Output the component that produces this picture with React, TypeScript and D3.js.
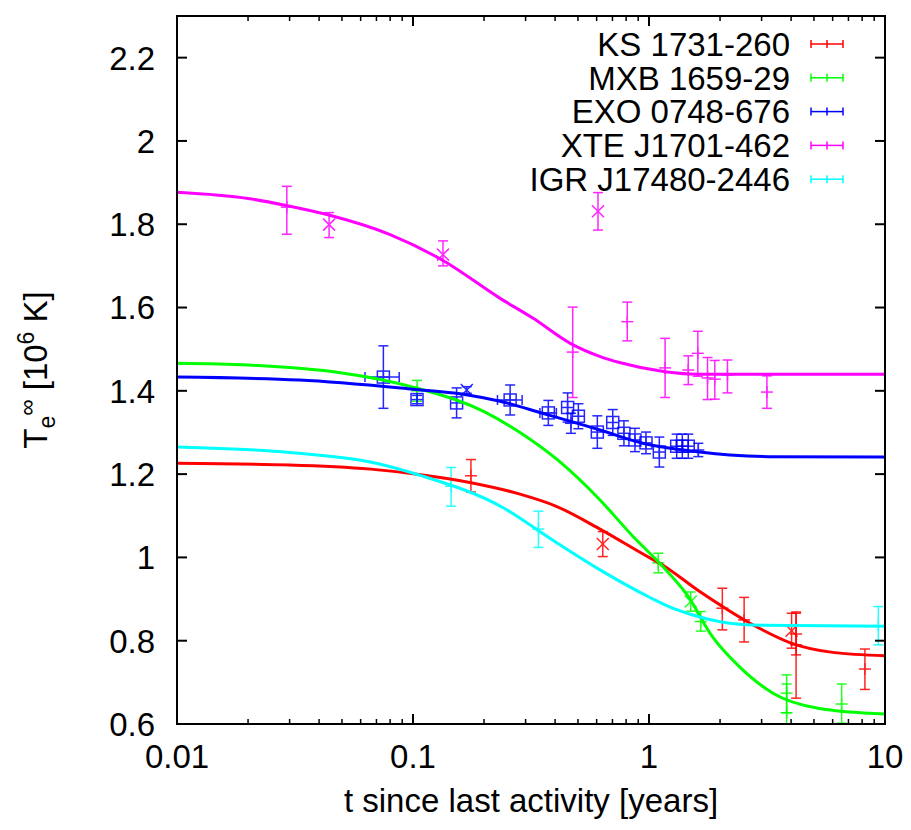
import React from "react";
import * as d3 from "d3";

type Pt = { t: number; v: number; lo: number; hi: number; m: string; tlo?: number; thi?: number };

// ---- Data ----
const seriesNames = ["KS 1731-260", "MXB 1659-29", "EXO 0748-676", "XTE J1701-462", "IGR J17480-2446"];
const seriesColors = ["#ff0000", "#00ff00", "#0000ff", "#ff00ff", "#00ffff"];

const ksPoints: Pt[] = [
  { t: 0.176, v: 1.196, lo: 1.157, hi: 1.235, m: "+" },
  { t: 0.637, v: 1.032, lo: 1.002, hi: 1.062, m: "x" },
  { t: 2.045, v: 0.878, lo: 0.826, hi: 0.926, m: "+" },
  { t: 2.53, v: 0.85, lo: 0.797, hi: 0.904, m: "+" },
  { t: 4.02, v: 0.824, lo: 0.782, hi: 0.866, m: "x" },
  { t: 4.2, v: 0.816, lo: 0.766, hi: 0.869, m: "+" },
  { t: 4.2, v: 0.79, lo: 0.662, hi: 0.866, m: "+" },
  { t: 8.22, v: 0.732, lo: 0.683, hi: 0.78, m: "+" },
];
const mxbPoints: Pt[] = [
  { t: 0.104, v: 1.4, lo: 1.375, hi: 1.425, m: "+" },
  { t: 1.095, v: 0.987, lo: 0.963, hi: 1.01, m: "+" },
  { t: 1.502, v: 0.894, lo: 0.871, hi: 0.917, m: "x" },
  { t: 1.656, v: 0.846, lo: 0.823, hi: 0.87, m: "+" },
  { t: 3.83, v: 0.674, lo: 0.627, hi: 0.718, m: "+" },
  { t: 3.83, v: 0.627, lo: 0.58, hi: 0.696, m: "+" },
  { t: 6.55, v: 0.648, lo: 0.602, hi: 0.696, m: "+" },
];
const exoPoints: Pt[] = [
  { t: 0.0749, v: 1.433, lo: 1.358, hi: 1.508, m: "s", tlo: 0.0626, thi: 0.0874 },
  { t: 0.104, v: 1.379, lo: 1.369, hi: 1.389, m: "s" },
  { t: 0.153, v: 1.371, lo: 1.335, hi: 1.407, m: "s" },
  { t: 0.169, v: 1.402, lo: 1.394, hi: 1.41, m: "x" },
  { t: 0.258, v: 1.378, lo: 1.342, hi: 1.414, m: "s", tlo: 0.228, thi: 0.29 },
  { t: 0.3745, v: 1.347, lo: 1.317, hi: 1.377, m: "s", tlo: 0.345, thi: 0.405 },
  { t: 0.452, v: 1.36, lo: 1.325, hi: 1.395, m: "s" },
  { t: 0.467, v: 1.322, lo: 1.298, hi: 1.346, m: "+" },
  { t: 0.502, v: 1.339, lo: 1.309, hi: 1.369, m: "s" },
  { t: 0.604, v: 1.301, lo: 1.262, hi: 1.34, m: "s" },
  { t: 0.702, v: 1.324, lo: 1.293, hi: 1.355, m: "s" },
  { t: 0.783, v: 1.298, lo: 1.268, hi: 1.328, m: "s" },
  { t: 0.872, v: 1.282, lo: 1.254, hi: 1.31, m: "s" },
  { t: 0.971, v: 1.275, lo: 1.249, hi: 1.301, m: "s" },
  { t: 1.106, v: 1.253, lo: 1.217, hi: 1.289, m: "s" },
  { t: 1.31, v: 1.267, lo: 1.238, hi: 1.296, m: "s" },
  { t: 1.384, v: 1.267, lo: 1.238, hi: 1.296, m: "s" },
  { t: 1.467, v: 1.267, lo: 1.238, hi: 1.296, m: "s" },
  { t: 1.618, v: 1.258, lo: 1.242, hi: 1.274, m: "+" },
];
const xtePoints: Pt[] = [
  { t: 0.0292, v: 1.841, lo: 1.776, hi: 1.891, m: "+" },
  { t: 0.0441, v: 1.799, lo: 1.768, hi: 1.828, m: "x" },
  { t: 0.134, v: 1.727, lo: 1.7, hi: 1.76, m: "x" },
  { t: 0.475, v: 1.493, lo: 1.384, hi: 1.601, m: "+" },
  { t: 0.608, v: 1.831, lo: 1.786, hi: 1.876, m: "x" },
  { t: 0.809, v: 1.566, lo: 1.52, hi: 1.613, m: "+" },
  { t: 1.17, v: 1.455, lo: 1.384, hi: 1.526, m: "+" },
  { t: 1.467, v: 1.45, lo: 1.415, hi: 1.484, m: "+" },
  { t: 1.61, v: 1.49, lo: 1.435, hi: 1.543, m: "+" },
  { t: 1.77, v: 1.431, lo: 1.379, hi: 1.48, m: "+" },
  { t: 1.9, v: 1.428, lo: 1.38, hi: 1.473, m: "+" },
  { t: 2.15, v: 1.438, lo: 1.395, hi: 1.474, m: "+" },
  { t: 3.16, v: 1.397, lo: 1.358, hi: 1.436, m: "+" },
];
const igrPoints: Pt[] = [
  { t: 0.145, v: 1.171, lo: 1.123, hi: 1.216, m: "+" },
  { t: 0.34, v: 1.068, lo: 1.024, hi: 1.111, m: "+" },
  { t: 9.37, v: 0.836, lo: 0.79, hi: 0.882, m: "+" },
];

// model curves: [t, T]
const ksCurve: [number, number][] = [
  [0.01, 1.226], [0.03, 1.222], [0.066, 1.212], [0.1, 1.201], [0.174, 1.18], [0.284, 1.152],
  [0.4, 1.124], [0.62, 1.068], [1.0, 1.0], [1.11, 0.986], [1.64, 0.918], [2.68, 0.842],
  [3.97, 0.795], [6.0, 0.772], [10, 0.764],
];
const mxbCurve: [number, number][] = [
  [0.01, 1.466], [0.02, 1.462], [0.033, 1.454], [0.05, 1.443], [0.1, 1.409], [0.2, 1.35],
  [0.284, 1.3], [0.41, 1.234], [0.62, 1.138], [0.86, 1.049], [1.11, 0.986], [1.45, 0.91],
  [1.86, 0.809], [2.42, 0.737], [3.35, 0.674], [5.2, 0.638], [10, 0.624],
];
const exoCurve: [number, number][] = [
  [0.01, 1.433], [0.033, 1.426], [0.1, 1.404], [0.163, 1.392], [0.234, 1.375], [0.355, 1.346],
  [0.62, 1.306], [0.94, 1.274], [1.64, 1.253], [2.2, 1.246], [3.2, 1.242], [10, 1.241],
];
const xteCurve: [number, number][] = [
  [0.01, 1.877], [0.02, 1.862], [0.029, 1.845], [0.044, 1.822], [0.08, 1.775], [0.134, 1.713],
  [0.234, 1.622], [0.323, 1.574], [0.464, 1.514], [0.63, 1.481], [0.75, 1.468], [1.17, 1.446],
  [1.6, 1.44], [10, 1.44],
];
const igrCurve: [number, number][] = [
  [0.01, 1.265], [0.03, 1.252], [0.066, 1.229], [0.106, 1.198], [0.24, 1.12], [0.38, 1.046],
  [0.62, 0.97], [1.0, 0.905], [1.3, 0.875], [1.64, 0.857], [2.2, 0.842], [3, 0.837], [10, 0.835],
];

const yTicks = [0.6, 0.8, 1, 1.2, 1.4, 1.6, 1.8, 2, 2.2];
const yTickLabels = ["0.6", "0.8", "1", "1.2", "1.4", "1.6", "1.8", "2", "2.2"];
const xTicks = [0.01, 0.1, 1, 10];
const xTickLabels = ["0.01", "0.1", "1", "10"];

const allPoints = [ksPoints, mxbPoints, exoPoints, xtePoints, igrPoints];
const allCurves = [ksCurve, mxbCurve, exoCurve, xteCurve, igrCurve];

const W = 911, H = 830;
const L = 177, R = 885, T = 16, B = 724;
const FONT = "'Liberation Sans', Arial, Helvetica, sans-serif";
const FS = 33;

export default function App() {
  const x = d3.scaleLog().domain([0.01, 10]).range([L, R]);
  const y = d3.scaleLinear().domain([0.6, 2.3]).range([B, T]);
  const line = d3
    .line<[number, number]>()
    .x((d) => x(d[0]))
    .y((d) => y(d[1]))
    .curve(d3.curveMonotoneX);

  const minor: number[] = [];
  for (let dec = 0.01; dec < 10; dec *= 10) {
    for (let k = 2; k <= 9; k++) minor.push(+(dec * k).toPrecision(3));
  }

  const cap = 5;

  const marker = (m: string, px: number, py: number, c: string, key: string) => {
    const els: React.ReactNode[] = [];
    const ms = 6;
    if (m === "+" || m === "s") {
      els.push(<line key={key + "h"} x1={px - ms} x2={px + ms} y1={py} y2={py} stroke={c} strokeWidth={1.5} />);
      els.push(<line key={key + "v"} x1={px} x2={px} y1={py - ms} y2={py + ms} stroke={c} strokeWidth={1.5} />);
    }
    if (m === "x") {
      els.push(<line key={key + "a"} x1={px - ms} x2={px + ms} y1={py - ms} y2={py + ms} stroke={c} strokeWidth={1.5} />);
      els.push(<line key={key + "b"} x1={px - ms} x2={px + ms} y1={py + ms} y2={py - ms} stroke={c} strokeWidth={1.5} />);
    }
    if (m === "s") {
      els.push(<rect key={key + "s"} x={px - ms} y={py - ms} width={2 * ms} height={2 * ms} fill="none" stroke={c} strokeWidth={1.5} />);
    }
    return els;
  };

  return (
    <svg width={W} height={H} style={{ position: "absolute", left: 0, top: 0, background: "#fff" }} fontFamily={FONT}>
      <defs>
        <clipPath id="plotclip">
          <rect x={L} y={T} width={R - L} height={B - T} />
        </clipPath>
      </defs>

      {/* data points with error bars */}
      <g clipPath="url(#plotclip)">
        {allPoints.map((pts, si) =>
          pts.map((p, i) => {
            const c = seriesColors[si];
            const px = x(p.t), py = y(p.v), ylo = y(p.lo), yhi = y(p.hi);
            const k = `p${si}-${i}`;
            return (
              <g key={k} opacity={0.85}>
                <line x1={px} x2={px} y1={ylo} y2={yhi} stroke={c} strokeWidth={1.5} />
                <line x1={px - cap} x2={px + cap} y1={ylo} y2={ylo} stroke={c} strokeWidth={1.5} />
                <line x1={px - cap} x2={px + cap} y1={yhi} y2={yhi} stroke={c} strokeWidth={1.5} />
                {p.tlo !== undefined && p.thi !== undefined && (
                  <g>
                    <line x1={x(p.tlo)} x2={x(p.thi)} y1={py} y2={py} stroke={c} strokeWidth={1.5} />
                    <line x1={x(p.tlo)} x2={x(p.tlo)} y1={py - cap} y2={py + cap} stroke={c} strokeWidth={1.5} />
                    <line x1={x(p.thi)} x2={x(p.thi)} y1={py - cap} y2={py + cap} stroke={c} strokeWidth={1.5} />
                  </g>
                )}
                {marker(p.m, px, py, c, k)}
              </g>
            );
          })
        )}
        {/* model curves */}
        {allCurves.map((cv, si) => (
          <path key={"c" + si} d={line(cv) || ""} fill="none" stroke={seriesColors[si]} strokeWidth={3} />
        ))}
      </g>

      {/* frame */}
      <rect x={L} y={T} width={R - L} height={B - T} fill="none" stroke="#000" strokeWidth={2} />

      {/* y ticks */}
      {yTicks.map((v, i) => (
        <g key={"yt" + i}>
          <line x1={L} x2={L + 10} y1={y(v)} y2={y(v)} stroke="#000" strokeWidth={2} />
          <line x1={R} x2={R - 10} y1={y(v)} y2={y(v)} stroke="#000" strokeWidth={2} />
          <text x={155} y={y(v)} dy="0.36em" textAnchor="end" fontSize={FS} fill="#000">
            {yTickLabels[i]}
          </text>
        </g>
      ))}

      {/* x ticks */}
      {xTicks.map((v, i) => (
        <g key={"xt" + i}>
          <line x1={x(v)} x2={x(v)} y1={B} y2={B - 10} stroke="#000" strokeWidth={2} />
          <line x1={x(v)} x2={x(v)} y1={T} y2={T + 10} stroke="#000" strokeWidth={2} />
          <text x={x(v)} y={768} textAnchor="middle" fontSize={FS} fill="#000">
            {xTickLabels[i]}
          </text>
        </g>
      ))}
      {minor.map((v, i) => (
        <g key={"xm" + i}>
          <line x1={x(v)} x2={x(v)} y1={B} y2={B - 5} stroke="#000" strokeWidth={1.5} />
          <line x1={x(v)} x2={x(v)} y1={T} y2={T + 5} stroke="#000" strokeWidth={1.5} />
        </g>
      ))}

      {/* axis labels */}
      <text x={(L + R) / 2} y={812} textAnchor="middle" fontSize={FS} fill="#000">
        t since last activity [years]
      </text>
      <text transform={`translate(47, ${(T + B) / 2}) rotate(-90)`} textAnchor="middle" fontSize={FS} fill="#000">
        <tspan>T</tspan>
        <tspan fontSize={23} dy={8}>e</tspan>
        <tspan fontSize={23} dy={-20}>∞</tspan>
        <tspan dy={12}> [10</tspan>
        <tspan fontSize={23} dy={-13}>6</tspan>
        <tspan dy={13}> K]</tspan>
      </text>

      {/* legend */}
      {seriesNames.map((name, i) => {
        const ly = 44 + i * 33.8;
        const c = seriesColors[i];
        return (
          <g key={"lg" + i}>
            <text x={790} y={ly} dy="0.36em" textAnchor="end" fontSize={FS} fill="#000">
              {name}
            </text>
            <line x1={811} x2={843} y1={ly} y2={ly} stroke={c} strokeWidth={1.5} />
            <line x1={811} x2={811} y1={ly - 4} y2={ly + 4} stroke={c} strokeWidth={1.5} />
            <line x1={843} x2={843} y1={ly - 4} y2={ly + 4} stroke={c} strokeWidth={1.5} />
            <line x1={827} x2={827} y1={ly - 4} y2={ly + 4} stroke={c} strokeWidth={1.5} />
          </g>
        );
      })}
    </svg>
  );
}
